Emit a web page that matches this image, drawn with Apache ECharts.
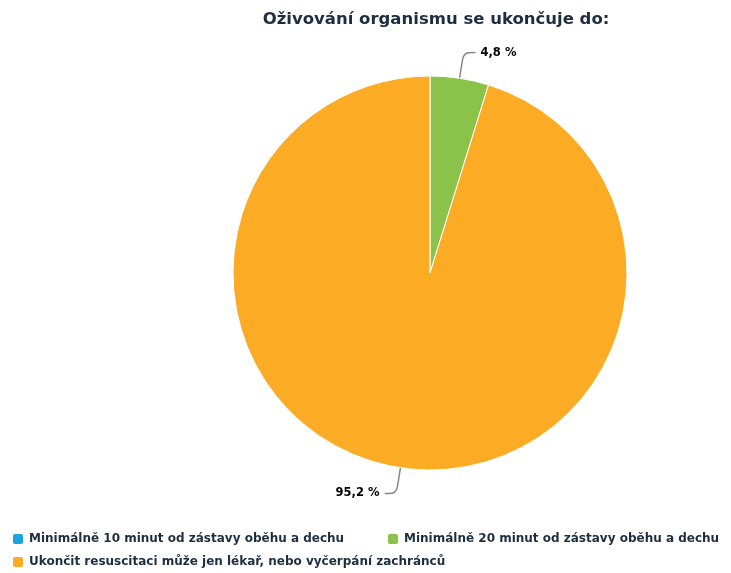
<!DOCTYPE html>
<html><head><meta charset="utf-8">
<script src="https://cdn.jsdelivr.net/npm/echarts@6/dist/echarts.min.js"></script>
<style>html,body{margin:0;padding:0;background:#fff}#c{width:731px;height:573px}</style>
</head><body><div id="c"></div>
<script>
const titleText = 'Oživování organismu se ukončuje do:';
const categories = ['Minimálně 10 minut od zástavy oběhu a dechu','Minimálně 20 minut od zástavy oběhu a dechu','Ukončit resuscitaci může jen lékař, nebo vyčerpání zachránců'];
const values = [0, 4.8, 95.2];
const colors = ['#1ca1e2','#8bc34a','#fbab24'];

const chart = echarts.init(document.getElementById('c'));
const legendFont = {fontFamily:'DejaVu Sans', fontSize:12, fontWeight:'bold', color:'#1e2e40'};
const legendPos = [{left:6,top:527},{left:381,top:527},{left:6,top:550}];
chart.setOption({
  animation:false,
  title:{text:titleText, left:431, textAlign:'center', top:6,
    textStyle:{fontFamily:'DejaVu Sans', fontSize:16.5, fontWeight:'bold', color:'#1e2e40'}},
  legend: categories.map((c,i)=>({data:[c], left:legendPos[i].left, top:legendPos[i].top, icon:'roundRect', itemWidth:12, itemHeight:12, itemGap:5, textStyle:legendFont})),
  series:[{
    type:'pie', center:[430,273], radius:197, startAngle:90, clockwise:true,
    color:colors,
    itemStyle:{borderColor:'#fff', borderWidth:1},
    label:{show:true, formatter:p=> p.value>0 ? String(p.value).replace('.',',')+' %' : '', fontFamily:'DejaVu Sans', fontSize:11.5, fontWeight:'bold', color:'#000'},
    labelLine:{show:true, length:26, length2:12, smooth:true, lineStyle:{color:'#888', width:1.5}},
    data: categories.map((c,i)=>({name:c, value:values[i], label:{show:values[i]>0}, labelLine:{show:values[i]>0}}))
  }]
});
</script></body></html>
